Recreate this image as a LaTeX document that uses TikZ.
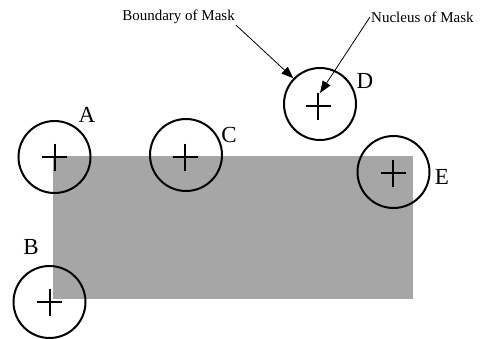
\documentclass[tikz,border=0pt]{standalone}
\usepackage{fontspec}
\setmainfont{Liberation Serif}
\usetikzlibrary{arrows.meta}
\definecolor{maskgray}{RGB}{166,166,166}
\begin{document}
\begin{tikzpicture}[x=1pt,y=-1pt,
  mask/.style={circle,draw,line width=2pt,minimum size=72pt,inner sep=0pt},
  crossmark/.style={line width=2pt},
  lbl/.style={font=\fontsize{23}{27}\selectfont,inner sep=0pt},
  note/.style={font=\fontsize{15}{18}\selectfont,inner sep=1pt},
  pointer/.style={line width=0.8pt,-{Triangle[length=12pt,width=9pt]}}]
\useasboundingbox (0,0) rectangle (480,338);
\fill[maskgray] (53,156) rectangle (413,299);
\node[mask] (A) at (54.5,157) {};
\node[mask] (C) at (186,155) {};
\node[mask] (B) at (49.5,302) {};
\node[mask] (E) at (393.5,172) {};
\node[mask] (D) at (320,104) {};
\foreach \n/\dx/\dy in {A/0/0, C/-1/2, B/0/0, E/-0.5/1, D/-2/2}{
  \draw[crossmark] ([shift={(\dx-12.5,\dy)}]\n.center) -- ([shift={(\dx+12.5,\dy)}]\n.center);
  \draw[crossmark] ([shift={(\dx,\dy-13.5)}]\n.center) -- ([shift={(\dx,\dy+13.5)}]\n.center);
}
\node[lbl] (la) at (87,115) {A};
\node[lbl] (lb) at (31,247) {B};
\node[lbl] (lc) at (229,135) {C};
\node[lbl] (ld) at (365,81) {D};
\node[lbl] (le) at (442,177) {E};
\node[note,anchor=east] (bt) at (236,17) {Boundary of Mask};
\node[note,anchor=west] (nt) at (370,17) {Nucleus of Mask};
\coordinate (Dn) at (320,93);
\draw[pointer] (bt.south east) -- (D.136);
\draw[pointer] (nt.west) -- (Dn);
\end{tikzpicture}
\end{document}
